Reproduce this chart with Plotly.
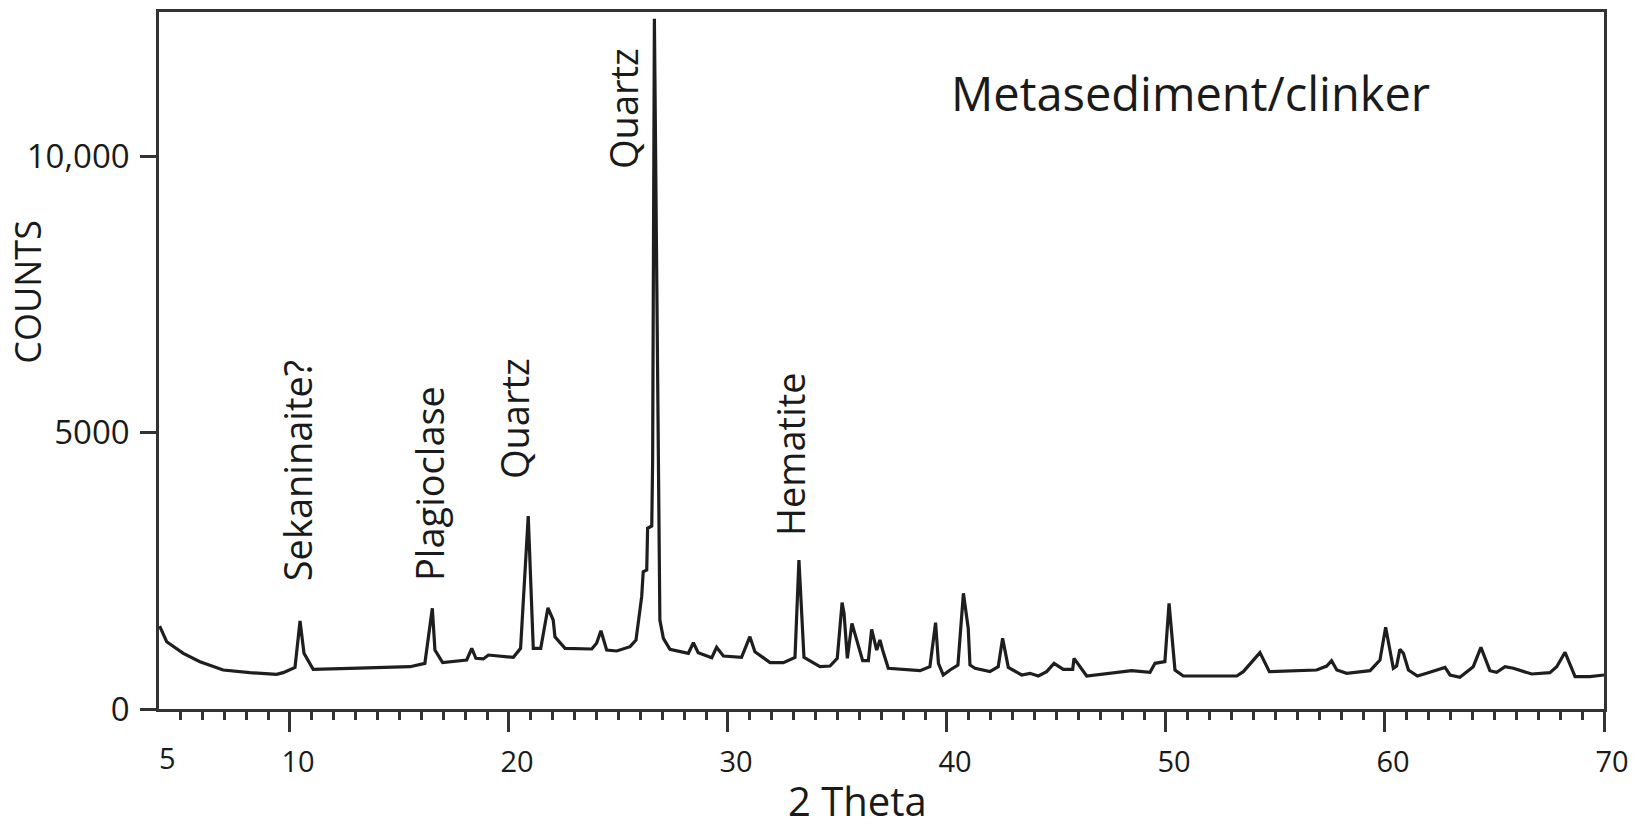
import plotly.graph_objects as go

# ---- data ----
two_theta = [4.05, 4.37, 5.13, 5.89, 6.95, 8.17, 9.39, 9.69, 10.23, 10.46, 10.64, 11.06, 12.74,
             15.48, 16.16, 16.50, 16.62, 16.97, 18.07, 18.30, 18.49, 18.83, 19.06, 20.20, 20.53,
             20.88, 21.11, 21.45, 21.78, 22.02, 22.10, 22.56, 23.78, 24.00, 24.20, 24.46, 24.92,
             25.53, 25.80, 26.06, 26.13, 26.29, 26.33, 26.52, 26.56, 26.64, 26.89, 27.05, 27.35,
             28.19, 28.42, 28.64, 29.26, 29.48, 29.79, 30.62, 31.00, 31.23, 31.92, 32.53, 33.06,
             33.24, 33.47, 34.20, 34.66, 34.99, 35.21, 35.30, 35.45, 35.66, 36.15, 36.41, 36.56,
             36.79, 36.94, 37.06, 37.32, 38.77, 39.22, 39.48, 39.61, 39.83, 40.14, 40.50, 40.75,
             40.97, 41.05, 41.28, 41.96, 42.34, 42.54, 42.80, 43.41, 43.79, 44.17, 44.55, 44.89,
             45.31, 45.74, 45.80, 46.38, 48.43, 49.27, 49.50, 49.95, 50.14, 50.41, 50.79, 53.23,
             53.53, 54.29, 54.72, 56.88, 57.34, 57.56, 57.80, 58.25, 59.32, 59.77, 60.03, 60.38,
             60.53, 60.68, 60.84, 61.07, 61.48, 61.90, 62.74, 62.97, 63.42, 64.03, 64.38, 64.79,
             65.10, 65.48, 65.86, 66.70, 67.53, 67.84, 68.22, 68.68, 69.36, 70.00]
counts = [1500, 1217, 1007, 856, 705, 657, 627, 657, 753, 1591, 1007, 717, 736,
          765, 826, 1821, 1067, 838, 886, 1097, 916, 905, 976, 934, 1097,
          3490, 1097, 1097, 1830, 1609, 1307, 1097, 1085, 1188, 1416, 1067, 1049,
          1127, 1248, 2031, 2483, 2514, 3268, 3309, 4503, 12480, 1609, 1278, 1079,
          1007, 1199, 1019, 928, 1115, 958, 934, 1307, 1036, 838, 838, 934,
          2694, 934, 765, 777, 916, 1923, 1730, 916, 1549, 874, 874, 1441,
          1067, 1248, 1067, 736, 693, 765, 1561, 826, 615, 705, 796, 2092,
          1459, 796, 736, 675, 765, 1278, 753, 615, 645, 597, 675, 826,
          717, 717, 916, 597, 693, 663, 826, 856, 1911, 705, 597, 597,
          675, 1019, 675, 705, 777, 874, 705, 645, 693, 886, 1477, 736,
          777, 1079, 1007, 705, 597, 645, 753, 615, 573, 765, 1115, 693,
          663, 765, 736, 633, 657, 765, 1025, 585, 585, 615]

x_tick_vals = [10, 20, 30, 40, 50, 60, 70]
x_tick_text = ["10", "20", "30", "40", "50", "60", "70"]
y_tick_vals = [0, 5000, 10000]
y_tick_text = ["0", "5000", "10,000"]

peak_labels = ["Sekaninaite?", "Plagioclase", "Quartz", "Quartz", "Hematite"]
peak_label_x = [10.32, 16.34, 20.23, 25.20, 32.84]
peak_label_y = [2283, 2283, 4113, 9736, 3094]

FONT = "Open Sans"
INK = "#1a1a1a"
AX = "#333333"

fig = go.Figure()
fig.add_trace(go.Scatter(x=two_theta, y=counts, mode="lines",
                         line=dict(color="#1e1e1e", width=3.2), showlegend=False,
                         hoverinfo="skip"))

for txt, px, py in zip(peak_labels, peak_label_x, peak_label_y):
    fig.add_annotation(x=px, y=py, xref="x", yref="y", text=txt, textangle=-90,
                       showarrow=False, xanchor="center", yanchor="bottom",
                       font=dict(family=FONT, size=38, color=INK))

# chart title in the upper right of the plot
fig.add_annotation(x=40.1, y=11140, xref="x", yref="y", text="Metasediment/clinker",
                   showarrow=False, xanchor="left", yanchor="middle",
                   font=dict(family=FONT, size=47, color=INK))

# left-most tick label "5" (drawn at the axis edge as in the reference)
fig.add_annotation(x=4.4, y=-0.069, xref="x", yref="paper", text="5", showarrow=False,
                   xanchor="center", yanchor="middle",
                   font=dict(family=FONT, size=29, color=INK))

# axis titles
fig.add_annotation(x=0.4837, y=-0.173, xref="paper", yref="paper", text="2 Theta",
                   showarrow=False, xanchor="center", yanchor="bottom",
                   font=dict(family=FONT, size=40, color=INK))
fig.add_annotation(x=-0.091, y=0.598, xref="paper", yref="paper", text="COUNTS",
                   textangle=-90, showarrow=False, xanchor="center", yanchor="middle",
                   font=dict(family=FONT, size=36, color=INK))

fig.update_xaxes(range=[4.02, 70], tickvals=x_tick_vals, ticktext=x_tick_text,
                 automargin=False,
                 showgrid=False, zeroline=False, showline=True, mirror=True,
                 linecolor=AX, linewidth=2.5, ticks="outside", ticklen=20, tickwidth=2.5,
                 tickcolor=AX, ticklabelshift=8, ticklabelstandoff=5,
                 tickfont=dict(family=FONT, size=29, color=INK),
                 minor=dict(ticks="outside", ticklen=8, tickwidth=2.5, tickcolor=AX,
                            tick0=0, dtick=1, showgrid=False))
fig.update_yaxes(range=[0, 12604], tickvals=y_tick_vals, ticktext=y_tick_text,
                 automargin=False,
                 showgrid=False, zeroline=False, showline=True, mirror=True,
                 linecolor=AX, linewidth=2.5, ticks="outside", ticklen=16, tickwidth=2.5,
                 tickcolor=AX, ticklabelstandoff=4,
                 tickfont=dict(family=FONT, size=33, color=INK))

fig.update_layout(width=1634, height=831, autosize=False,
                  margin=dict(l=159, r=30, t=12, b=122, autoexpand=False),
                  paper_bgcolor="white", plot_bgcolor="white",
                  font=dict(family=FONT, color=INK))

fig.write_html("out.html", config={"displayModeBar": False},
               post_script="document.body.style.margin='0px';"
                           "document.body.style.overflow='hidden';")
